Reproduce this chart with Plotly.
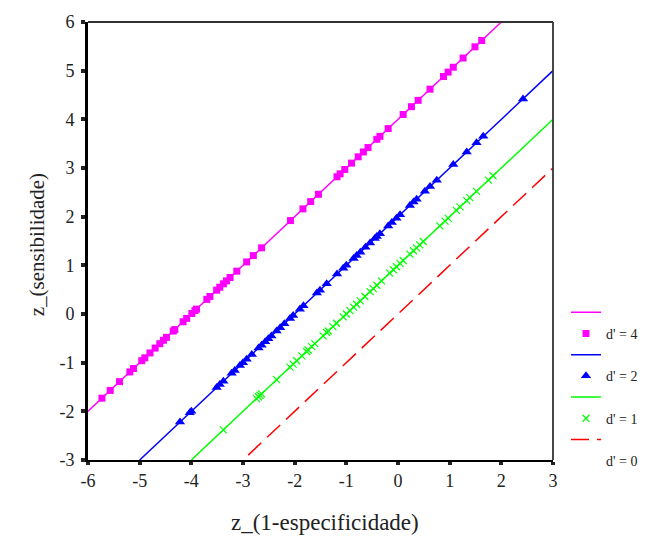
import plotly.graph_objects as go

# --- data -------------------------------------------------------------
x_ticks = [-6, -5, -4, -3, -2, -1, 0, 1, 2, 3]
y_ticks = [-3, -2, -1, 0, 1, 2, 3, 4, 5, 6]

# d' = 4 observed points (magenta squares)
d4_x = [-5.73, -5.57, -5.39, -5.19, -5.12, -4.96, -4.90, -4.80, -4.70, -4.61,
        -4.54, -4.48, -4.35, -4.32, -4.16, -4.09, -3.99, -3.93, -3.90, -3.70,
        -3.64, -3.51, -3.45, -3.38, -3.32, -3.25, -3.12, -2.93, -2.80, -2.64,
        -2.08, -1.84, -1.69, -1.54, -1.18, -1.12, -1.03, -0.90, -0.77, -0.67,
        -0.58, -0.41, -0.35, -0.19, 0.10, 0.26, 0.39, 0.62, 0.88, 0.97,
        1.07, 1.26, 1.49, 1.62]
d4_y = [-1.73, -1.57, -1.39, -1.19, -1.12, -0.96, -0.90, -0.80, -0.70, -0.61,
        -0.54, -0.48, -0.35, -0.32, -0.16, -0.09, 0.01, 0.07, 0.10, 0.30,
        0.36, 0.49, 0.55, 0.62, 0.68, 0.75, 0.88, 1.07, 1.20, 1.36,
        1.92, 2.16, 2.31, 2.46, 2.82, 2.88, 2.97, 3.10, 3.23, 3.33,
        3.42, 3.59, 3.65, 3.81, 4.10, 4.26, 4.39, 4.62, 4.88, 4.97,
        5.07, 5.26, 5.49, 5.62]

# d' = 2 observed points (blue triangles)
d2_x = [-4.22, -4.03, -4.00, -3.51, -3.45, -3.38, -3.22, -3.16, -3.06, -3.00,
        -2.93, -2.83, -2.70, -2.64, -2.57, -2.51, -2.45, -2.35, -2.28, -2.20,
        -2.09, -2.03, -1.90, -1.83, -1.57, -1.51, -1.38, -1.18, -1.06, -1.00,
        -0.86, -0.80, -0.73, -0.63, -0.54, -0.45, -0.41, -0.35, -0.19, -0.12,
        -0.03, 0.04, 0.23, 0.30, 0.36, 0.52, 0.62, 0.75, 1.07, 1.33,
        1.52, 1.65, 2.42]
d2_y = [-2.22, -2.03, -2.00, -1.51, -1.45, -1.38, -1.22, -1.16, -1.06, -1.00,
        -0.93, -0.83, -0.70, -0.64, -0.57, -0.51, -0.45, -0.35, -0.28, -0.20,
        -0.09, -0.03, 0.10, 0.17, 0.43, 0.49, 0.62, 0.82, 0.94, 1.00,
        1.14, 1.20, 1.27, 1.37, 1.46, 1.55, 1.59, 1.65, 1.81, 1.88,
        1.97, 2.04, 2.23, 2.30, 2.36, 2.52, 2.62, 2.75, 3.07, 3.33,
        3.52, 3.65, 4.42]

# d' = 1 observed points (green crosses)
d1_x = [-3.38, -2.74, -2.70, -2.67, -2.64, -2.35, -2.09, -2.03, -1.96, -1.86,
        -1.77, -1.74, -1.67, -1.61, -1.45, -1.38, -1.35, -1.26, -1.19, -1.06,
        -1.00, -0.93, -0.86, -0.80, -0.73, -0.64, -0.54, -0.48, -0.41, -0.32,
        -0.16, -0.09, -0.03, 0.04, 0.10, 0.23, 0.30, 0.36, 0.42, 0.49,
        0.81, 0.91, 0.97, 1.13, 1.20, 1.33, 1.39, 1.52, 1.75, 1.84]
d1_y = [-2.38, -1.74, -1.70, -1.67, -1.64, -1.35, -1.09, -1.03, -0.96, -0.86,
        -0.77, -0.74, -0.67, -0.61, -0.45, -0.38, -0.35, -0.26, -0.19, -0.06,
        0.00, 0.07, 0.14, 0.20, 0.27, 0.36, 0.46, 0.52, 0.59, 0.68,
        0.84, 0.91, 0.97, 1.04, 1.10, 1.23, 1.30, 1.36, 1.42, 1.49,
        1.81, 1.91, 1.97, 2.13, 2.20, 2.33, 2.39, 2.52, 2.75, 2.84]

# theoretical ROC lines (end points)
line4_x = [-6.1, 2.0]
line4_y = [-2.1, 6.0]
line2_x = [-5.0, 3.0]
line2_y = [-3.0, 5.0]
line1_x = [-4.0, 3.0]
line1_y = [-3.0, 4.0]
line0_x = [-2.9, 3.0]
line0_y = [-2.9, 3.0]

MAG = "#ff00ff"
BLU = "#0000ff"
GRN = "#00ff00"
RED = "#ff0000"
FONT = "Liberation Serif"
TXT = "#222"

fig = go.Figure()

fig.add_trace(go.Scatter(x=line4_x, y=line4_y, mode="lines", name=" ",
                         line=dict(color=MAG, width=1.5)))
fig.add_trace(go.Scatter(x=d4_x, y=d4_y, mode="markers", name="d' = 4",
                         marker=dict(symbol="square", size=7, color=MAG)))
fig.add_trace(go.Scatter(x=line2_x, y=line2_y, mode="lines", name=" ",
                         line=dict(color=BLU, width=1.5)))
fig.add_trace(go.Scatter(x=d2_x, y=d2_y, mode="markers", name="d' = 2",
                         marker=dict(symbol="triangle-up", size=9, color=BLU)))
fig.add_trace(go.Scatter(x=line1_x, y=line1_y, mode="lines", name=" ",
                         line=dict(color=GRN, width=1.5)))
fig.add_trace(go.Scatter(x=d1_x, y=d1_y, mode="markers", name="d' = 1",
                         marker=dict(symbol="x-thin", size=7, color=GRN,
                                     line=dict(color=GRN, width=1.2))))
fig.add_trace(go.Scatter(x=line0_x, y=line0_y, mode="lines", name=" ",
                         line=dict(color=RED, width=1.5, dash="18px,8px")))
fig.add_trace(go.Scatter(x=[None], y=[None], mode="markers", name="d' = 0",
                         marker=dict(size=1, color="rgba(0,0,0,0)")))

tickfont = dict(family=FONT, size=18, color=TXT)

fig.update_layout(
    width=659, height=542,
    margin=dict(l=88, r=106, t=16, b=82),
    paper_bgcolor="white", plot_bgcolor="white",
    font=dict(family=FONT, size=17, color=TXT),
    showlegend=True,
    legend=dict(x=(566 - 88) / 465, xanchor="left", y=0.373, yanchor="top",
                font=dict(family=FONT, size=14, color=TXT),
                tracegroupgap=0, itemwidth=30, bgcolor="rgba(0,0,0,0)"),
    xaxis=dict(range=[-6, 3], tickvals=x_ticks, ticktext=[str(v) for v in x_ticks],
               tickfont=tickfont,
               showgrid=False, zeroline=False, showline=True, linecolor="black",
               linewidth=2, ticks="outside", ticklen=3, tickwidth=4,
               tickcolor="#222", ticklabelstandoff=0),
    yaxis=dict(range=[-3, 6], tickvals=y_ticks, ticktext=[str(v) for v in y_ticks],
               tickfont=tickfont,
               showgrid=False, zeroline=False, showline=True, linecolor="black",
               linewidth=3, ticks="outside", ticklen=4, tickwidth=4,
               tickcolor="#222", ticklabelstandoff=3),
    shapes=[
        dict(type="line", xref="paper", yref="paper", x0=0, x1=1, y0=1, y1=1,
             line=dict(color="#333", width=1.8)),
        dict(type="line", xref="paper", yref="paper", x0=1, x1=1, y0=0, y1=1,
             line=dict(color="#333", width=1.8)),
    ],
    annotations=[
        dict(text="z_(1-especificidade)", xref="paper", yref="paper",
             x=0.509, y=-0.142, xanchor="center", yanchor="middle",
             showarrow=False, font=dict(family=FONT, size=23, color=TXT)),
        dict(text="z_(sensibilidade)", xref="paper", yref="paper",
             x=-0.11, y=0.492, xanchor="center", yanchor="middle", textangle=-90,
             showarrow=False, font=dict(family=FONT, size=21, color=TXT)),
    ],
)

fig.write_html("out.html")
